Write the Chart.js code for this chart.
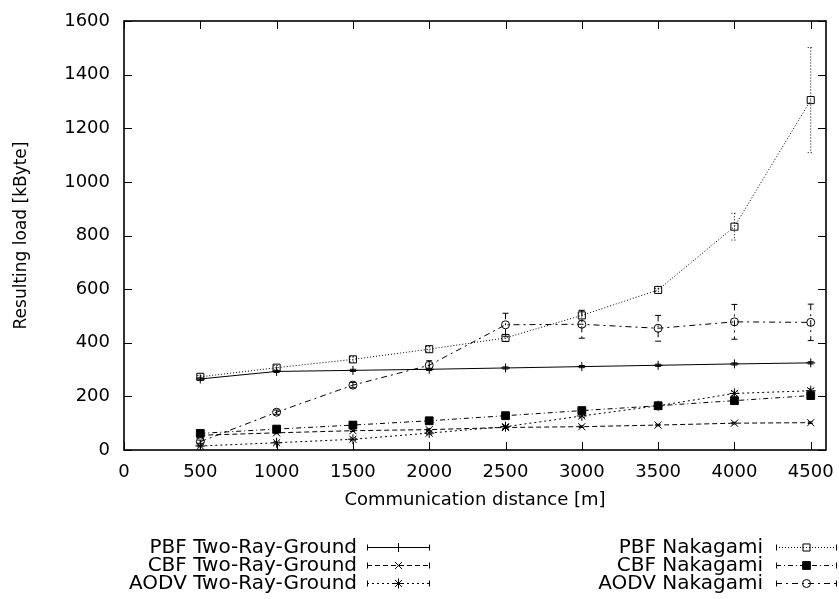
<!DOCTYPE html>
<html>
<head>
<meta charset="utf-8">
<script src="https://cdn.jsdelivr.net/npm/chart.js@4.4.1/dist/chart.umd.min.js"></script>
<style>
  html, body { margin: 0; padding: 0; background: #fff; }
</style>
</head>
<body>
<canvas id="chart" width="839" height="599"></canvas>
<script>
// Communication distance [m]
const distances = [500, 1000, 1500, 2000, 2500, 3000, 3500, 4000, 4500];

// resulting load [kByte]
const pbfTwoRay   = [265, 293, 297, 301, 306, 311, 316, 321, 325];
const cbfTwoRay   = [55, 64, 72, 76, 84, 87, 93, 100, 102];
const aodvTwoRay  = [15, 27, 40, 63, 87, 127, 165, 211, 221];
const pbfNaka     = [273, 307, 338, 376, 418, 502, 597, 833, 1305];
const cbfNaka     = [62, 78, 93, 109, 128, 147, 165, 184, 203];
const aodvNaka    = [31, 141, 242, 316, 467, 469, 454, 478, 476];

// error bar half widths
const pbfTwoRayErr  = [4, 4, 4, 4, 4, 4, 4, 4, 4];
const cbfTwoRayErr  = [3, 3, 3, 3, 3, 3, 3, 3, 3];
const aodvTwoRayErr = [3, 4, 5, 6, 6, 7, 8, 8, 8];
const pbfNakaErr    = [5, 8, 10, 10, 12, 18, 6, 50, 196];
const cbfNakaErr    = [3, 3, 4, 4, 4, 5, 5, 6, 6];
const aodvNakaErr   = [6, 8, 10, 17, 43, 52, 48, 65, 68];

const labels = [
  'PBF Two-Ray-Ground', 'CBF Two-Ray-Ground', 'AODV Two-Ray-Ground',
  'PBF Nakagami', 'CBF Nakagami', 'AODV Nakagami'
];

const xTicks = [0, 500, 1000, 1500, 2000, 2500, 3000, 3500, 4000, 4500];

const pts = vals => vals.map((v, i) => ({ x: distances[i], y: v }));

function series(label, vals, errs, style, radius, dash, fill) {
  return {
    label: label,
    data: pts(vals),
    errors: errs,
    borderColor: '#000',
    borderWidth: 1,
    borderDash: dash,
    pointStyle: style,
    pointRadius: radius,
    pointBorderWidth: 1,
    pointBorderColor: '#000',
    pointBackgroundColor: fill ? '#000' : 'rgba(0,0,0,0)',
    tension: 0,
    fill: false,
  };
}

const datasets = [
  series(labels[0], pbfTwoRay, pbfTwoRayErr, 'cross', 4.5, [], false),
  series(labels[1], cbfTwoRay, cbfTwoRayErr, 'crossRot', 5, [5, 3], false),
  series(labels[2], aodvTwoRay, aodvTwoRayErr, 'star', 5, [2, 3], false),
  series(labels[3], pbfNaka, pbfNakaErr, 'rect', 5, [1, 2], false),
  series(labels[4], cbfNaka, cbfNakaErr, 'rect', 5.5, [5, 3, 1, 3], true),
  series(labels[5], aodvNaka, aodvNakaErr, 'circle', 4, [6, 4, 2, 4], false),
];

// gnuplot style error bars
const errorBars = {
  id: 'errorBars',
  afterDatasetsDraw(chart) {
    const { ctx, scales: { x, y } } = chart;
    chart.data.datasets.forEach(ds => {
      ctx.save();
      ctx.strokeStyle = '#000';
      ctx.lineWidth = 1;
      ctx.setLineDash(ds.borderDash || []);
      ds.data.forEach((p, j) => {
        const e = ds.errors[j];
        const px = x.getPixelForValue(p.x);
        const top = y.getPixelForValue(p.y + e);
        const bot = y.getPixelForValue(p.y - e);
        ctx.beginPath();
        ctx.moveTo(px, top); ctx.lineTo(px, bot);
        ctx.moveTo(px - 3, top); ctx.lineTo(px + 3, top);
        ctx.moveTo(px - 3, bot); ctx.lineTo(px + 3, bot);
        ctx.stroke();
      });
      ctx.restore();
    });
  }
};

// border box with inward ticks on all four sides
const frame = {
  id: 'frame',
  afterDraw(chart) {
    const { ctx, chartArea: a, scales: { x, y } } = chart;
    ctx.save();
    ctx.strokeStyle = '#000';
    ctx.lineWidth = 1;
    ctx.beginPath();
    x.ticks.forEach(t => {
      const px = Math.round(x.getPixelForValue(t.value)) + 0.5;
      ctx.moveTo(px, a.bottom); ctx.lineTo(px, a.bottom - 8);
      ctx.moveTo(px, a.top); ctx.lineTo(px, a.top + 8);
    });
    y.ticks.forEach(t => {
      const py = Math.round(y.getPixelForValue(t.value)) + 0.5;
      ctx.moveTo(a.left, py); ctx.lineTo(a.left + 8, py);
      ctx.moveTo(a.right, py); ctx.lineTo(a.right - 8, py);
    });
    ctx.stroke();
    ctx.lineWidth = 1.6;
    ctx.strokeRect(a.left, a.top, a.right - a.left, a.bottom - a.top);
    ctx.restore();
  }
};

// two column key under the plot
const key = {
  id: 'key',
  afterDraw(chart) {
    const ctx = chart.ctx;
    const cols = [{ textRight: 357, x1: 367, x2: 430 }, { textRight: 763, x1: 776, x2: 837 }];
    const rows = [547, 565, 583];
    chart.data.datasets.forEach((ds, i) => {
      const c = cols[Math.floor(i / 3)];
      const yy = rows[i % 3] + 0.5;
      ctx.save();
      ctx.fillStyle = '#000';
      ctx.font = '20px "DejaVu Sans"';
      ctx.textAlign = 'right';
      ctx.textBaseline = 'middle';
      ctx.fillText(ds.label, c.textRight, yy);
      ctx.strokeStyle = '#000';
      ctx.lineWidth = 1;
      ctx.setLineDash(ds.borderDash);
      ctx.beginPath();
      ctx.moveTo(c.x1, yy); ctx.lineTo(c.x2, yy);
      ctx.stroke();
      ctx.setLineDash([]);
      ctx.beginPath();
      ctx.moveTo(c.x1 + 0.5, yy - 3); ctx.lineTo(c.x1 + 0.5, yy + 3);
      ctx.moveTo(c.x2 - 0.5, yy - 3); ctx.lineTo(c.x2 - 0.5, yy + 3);
      ctx.stroke();
      ctx.fillStyle = ds.pointBackgroundColor;
      Chart.helpers.drawPoint(ctx, {
        pointStyle: ds.pointStyle, radius: ds.pointRadius, borderWidth: 1, rotation: 0
      }, (c.x1 + c.x2) / 2, yy);
      ctx.restore();
    });
  }
};

const ctx = document.getElementById('chart').getContext('2d');
new Chart(ctx, {
  type: 'line',
  data: { datasets: datasets },
  plugins: [errorBars, frame, key],
  options: {
    responsive: false,
    animation: false,
    devicePixelRatio: 1,
    layout: { padding: { left: 0, right: 13, top: 21, bottom: 0 } },
    plugins: {
      legend: { display: false },
      tooltip: { enabled: false },
    },
    scales: {
      x: {
        type: 'linear',
        min: 0,
        max: 4600,
        afterBuildTicks: s => { s.ticks = xTicks.map(v => ({ value: v })); },
        afterFit: s => { s.height = 149; s.paddingLeft = 0; s.paddingRight = 0; },
        grid: { display: false, drawTicks: false },
        border: { display: false },
        ticks: {
          includeBounds: false,
          stepSize: 500,
          maxRotation: 0,
          autoSkip: false,
          padding: 12,
          color: '#000',
          font: { family: 'DejaVu Sans', size: 18 },
          callback: v => String(v),
        },
        title: {
          display: true,
          text: 'Communication distance [m]',
          color: '#000',
          font: { family: 'DejaVu Sans', size: 18 },
          padding: { top: 0, bottom: 88 },
        },
      },
      y: {
        min: 0,
        max: 1600,
        afterFit: s => { s.width = 124; s.paddingTop = 0; s.paddingBottom = 0; },
        grid: { display: false, drawTicks: false },
        border: { display: false },
        ticks: {
          stepSize: 200,
          padding: 14,
          color: '#000',
          font: { family: 'DejaVu Sans', size: 18 },
          callback: v => String(v),
        },
        title: {
          display: true,
          text: 'Resulting load [kByte]',
          color: '#000',
          font: { family: 'DejaVu Sans', size: 17 },
          padding: { top: 11, bottom: 0 },
        },
      },
    },
  },
});
</script>
</body>
</html>
